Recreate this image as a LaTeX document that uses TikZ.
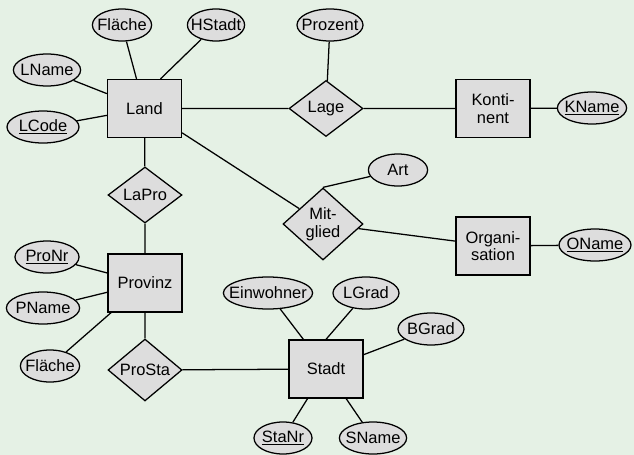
\documentclass[tikz,border=0pt]{standalone}
\usepackage{fontspec}
\setmainfont{Liberation Sans}
\usetikzlibrary{shapes.geometric}
\definecolor{bggreen}{RGB}{229,241,229}
\definecolor{ergray}{RGB}{221,221,221}
\newcommand{\attname}[1]{\makebox[0pt]{#1}}

\begin{document}
\begin{tikzpicture}[x=0.025cm,y=-0.025cm,
    font=\fontsize{11.7}{12.5}\selectfont,
    entity/.style={draw,fill=ergray,line width=0.9pt,inner sep=0pt,
        minimum width=1.85cm,minimum height=1.45cm,align=center},
    relation/.style={diamond,draw,fill=ergray,line width=0.9pt,inner sep=0pt,
        minimum width=1.85cm,minimum height=1.4cm,align=center},
    attr/.style={ellipse,draw,fill=ergray,line width=0.9pt,inner sep=0pt,
        minimum height=0.8cm,minimum width=#1},
    link/.style={line width=0.9pt}]
    %% Background
    \useasboundingbox (0,0) rectangle (634,455);
    \fill[bggreen] (0,0) rectangle (634,455);
    %% Entities
    \node[entity] (land) at (144.5,108.5) {Land};
    \node[entity] (kontinent) at (493,108.5) {Konti-\\nent};
    \node[entity] (organisation) at (493,246) {Organi-\\sation};
    \node[entity] (provinz) at (145,283) {Provinz};
    \node[entity] (stadt) at (326,369) {Stadt};
    %% Relationships
    \node[relation] (lage) at (326,108.5) {Lage};
    \node[relation,minimum width=2cm,minimum height=1.8cm] (mitglied) at (323,224) {Mit-\\glied};
    \node[relation] (lapro) at (145,195) {LaPro};
    \node[relation] (prosta) at (145,370) {ProSta};
    %% Attributes of Land
    \node[attr=1.48cm] (lflaeche) at (122,25) {\attname{Fläche}};
    \node[attr=1.43cm] (hstadt) at (216,25) {\attname{HStadt}};
    \node[attr=1.68cm] (lname) at (47,70) {\attname{LName}};
    \node[attr=1.8cm] (lcode) at (43,127) {\attname{\underline{LCode}}};
    %% Attributes of the rest
    \node[attr=1.65cm] (prozent) at (330,25) {\attname{Prozent}};
    \node[attr=1.73cm] (kname) at (592,108) {\attname{\underline{KName}}};
    \node[attr=1.48cm] (art) at (398,170) {\attname{Art}};
    \node[attr=1.8cm] (oname) at (595,245) {\attname{\underline{OName}}};
    \node[attr=1.6cm] (pronr) at (47,257) {\attname{\underline{ProNr}}};
    \node[attr=1.83cm] (pname) at (43,308) {\attname{PName}};
    \node[attr=1.48cm] (pflaeche) at (50,366) {\attname{Fläche}};
    \node[attr=2.23cm] (einwohner) at (268,293) {\attname{Einwohner}};
    \node[attr=1.65cm] (lgrad) at (366,293) {\attname{LGrad}};
    \node[attr=1.65cm] (bgrad) at (431,329) {\attname{BGrad}};
    \node[attr=1.45cm] (stanr) at (283,438) {\attname{\underline{StaNr}}};
    \node[attr=1.68cm] (sname) at (373,438) {\attname{SName}};
    %% Connections
    \draw[link] (lflaeche) -- (land);
    \draw[link] (hstadt) -- ([xshift=0.4cm]land.north);
    \draw[link] (lname) -- (land);
    \draw[link] (lcode) -- (land);
    \draw[link] (land) -- (lage) -- (kontinent) -- (kname);
    \draw[link] (prozent) -- (lage);
    \draw[link] (land) -- (mitglied) -- (organisation) -- (oname);
    \draw[link] (mitglied.north) -- (art);
    \draw[link] (land) -- (lapro) -- (provinz);
    \draw[link] (pronr) -- (provinz);
    \draw[link] (pname) -- (provinz);
    \draw[link] (pflaeche) -- (provinz);
    \draw[link] (provinz) -- (prosta) -- (stadt);
    \draw[link] (einwohner) -- (stadt);
    \draw[link] (lgrad) -- (stadt.north);
    \draw[link] (bgrad) -- (stadt);
    \draw[link] (stanr) -- (stadt);
    \draw[link] (sname) -- (stadt);
\end{tikzpicture}
\end{document}
